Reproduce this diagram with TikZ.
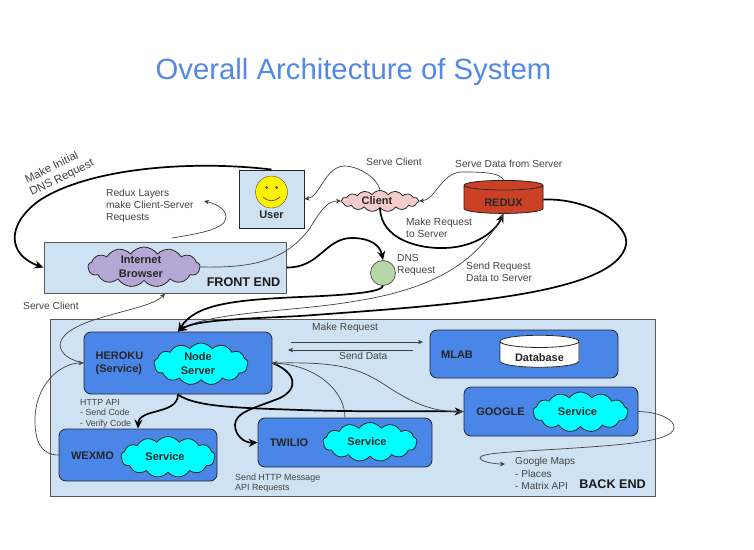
\documentclass[tikz,border=0pt]{standalone}
\usepackage{fontspec}
\setmainfont{Liberation Sans}
\usetikzlibrary{shapes.symbols,shapes.geometric,arrows.meta,calc}
\definecolor{boxblue}{HTML}{CFE2F3}
\definecolor{svc}{HTML}{4A86E8}
\definecolor{titlec}{HTML}{5288E6}
\definecolor{cyanc}{HTML}{00FFFF}
\definecolor{purp}{HTML}{B4A7D6}
\definecolor{pinkc}{HTML}{F4CCCC}
\definecolor{reddx}{HTML}{CC4125}
\definecolor{greenc}{HTML}{B6D7A8}
\definecolor{edge}{HTML}{595959}
\definecolor{lab}{HTML}{434343}
\newcommand\lft{\kern6pt}
\tikzset{
  zone/.style={draw=edge,line width=1pt,fill=boxblue,inner sep=0pt},
  svcbox/.style={draw=black!85,line width=.8pt,fill=svc,rounded corners=7pt,inner sep=0pt},
  puff/.style={cloud,cloud puffs=13,cloud puff arc=110,cloud ignores aspect,draw=black!85,line width=.8pt,inner sep=0pt,align=center,font=\fontsize{11}{13}\selectfont\bfseries,text=black!85},
  can/.style={cylinder,shape border rotate=90,aspect=.25,draw=black!85,line width=.8pt,inner sep=0pt,cylinder uses custom fill,font=\fontsize{11}{13}\selectfont\bfseries,text=black!85},
  note/.style={font=\fontsize{10.2}{12.3}\selectfont,text=lab,align=left,inner sep=0pt,anchor=west},
  tag/.style={font=\fontsize{11}{13.5}\selectfont\bfseries,text=black!85,align=center,inner sep=0pt},
  endtag/.style={font=\fontsize{12.6}{14}\selectfont\bfseries,text=black!90,inner sep=0pt},
  heavy/.style={line width=1.7pt,black,-{Stealth[length=9pt,width=8pt,inset=3pt]}},
  light/.style={line width=.7pt,black!75,-{Stealth[length=5pt,width=4.5pt,inset=1.5pt]}},
}
\begin{document}
\begin{tikzpicture}[x=1pt,y=-1pt]
\useasboundingbox (0,0) rectangle (754,549);
\node[font=\fontsize{29.3}{33}\selectfont,text=titlec] (title) at (353.5,71.5) {Overall Architecture of System};

% zones
\node[zone,minimum width=605pt,minimum height=177pt] (back) at (352.5,407.5) {};
\node[zone,minimum width=242pt,minimum height=51pt] (fe) at (165,267.5) {};
\node[zone,draw=black!85,minimum width=65pt,minimum height=58pt] (user) at (271.5,199) {};
\node[circle,draw=black!70,fill=yellow,minimum size=32pt,inner sep=0pt] (smile) at (271.5,192) {};
\fill[black!70] (266.5,187.5) circle (1.5pt) (276.5,187.5) circle (1.5pt);
\draw[black!70,line width=.7pt] (263,197) .. controls (268,202) and (275,202) .. (280,197);
\node[tag] (usert) at (271.5,215) {User};

% front-end
\node[puff,fill=purp,minimum width=112pt,minimum height=40pt] (browser) at (144,267) {Internet\lft\\[1pt]Browser\lft};
\node[endtag] (fet) at (243.5,282) {FRONT END};
\node[puff,fill=pinkc,minimum width=77pt,minimum height=21pt,cloud puffs=15] (client) at (380,201) {Client\lft};
\node[can,fill=reddx,cylinder body fill=reddx,cylinder end fill=reddx!60!white,minimum width=79pt,minimum height=33pt] (redux) at (503.5,199.5) {\raisebox{-6.5pt}[0pt][0pt]{REDUX}};
\node[circle,draw=edge,line width=.8pt,fill=greenc,minimum size=25pt,inner sep=0pt] (dns) at (383,273) {};

% services
\node[svcbox,minimum width=188pt,minimum height=62pt] (heroku) at (178,363) {};
\node[tag,align=left] (herokut) at (119.5,363.5) {HEROKU\\(Service)};
\node[puff,fill=cyanc,minimum width=94pt,minimum height=42pt] (node) at (201,364) {Node\lft\\[1pt]Server\lft};
\node[svcbox,minimum width=188pt,minimum height=48pt] (mlab) at (524,354) {};
\node[tag] (mlabt) at (457,354.5) {MLAB};
\node[can,fill=white,cylinder body fill=white,cylinder end fill=white,minimum width=79pt,minimum height=32pt] (db) at (539.5,354.5) {\raisebox{-6.5pt}[0pt][0pt]{Database}};
\node[svcbox,minimum width=174pt,minimum height=49pt] (google) at (551,411.5) {};
\node[tag] (googlet) at (500.5,412) {GOOGLE};
\node[puff,fill=cyanc,minimum width=95pt,minimum height=40pt] (gcloud) at (580.5,412) {Service\lft};
\node[svcbox,minimum width=174pt,minimum height=49pt] (twilio) at (345,442.5) {};
\node[tag] (twiliot) at (289,443) {TWILIO};
\node[puff,fill=cyanc,minimum width=94pt,minimum height=39pt] (tcloud) at (370,442) {Service\lft};
\node[svcbox,minimum width=158pt,minimum height=52pt] (wexmo) at (138,455) {};
\node[tag] (wexmot) at (92.5,455.5) {WEXMO};
\node[puff,fill=cyanc,minimum width=94pt,minimum height=41pt] (wcloud) at (168,457) {Service\lft};

% free ends
\coordinate (c1) at (172,238);
\coordinate (c2) at (204,201);
\coordinate (mrs) at (291,342);
\coordinate (mre) at (423,342);
\coordinate (sds) at (413,350);
\coordinate (sde) at (288,350);
\coordinate (gme) at (505,464);

% connectors
\draw[heavy] (user.north) .. controls (190,160) and (90,168) .. (40,200) .. controls (5,225) and (8,255) .. (fe.west);
\draw[light] (c1) .. controls (195,234) and (226,230) .. (226,217) .. controls (226,207) and (212,203) .. (c2);
\draw[light] (browser.east) .. controls (250,268) and (285,262) .. (310,228) .. controls (322,208) and (328,201) .. (client.west);
\draw[heavy] (fe.east) .. controls (320,268) and (325,238) .. (352,238) .. controls (370,238) and (380,245) .. (dns.north);
\draw[light] (client.north) .. controls (376,175) and (355,166) .. (345,166) .. controls (325,166) and (320,197) .. (user.east);
\draw[light] (redux.90) .. controls (500,172) and (480,172) .. (460,172) .. controls (440,175) and (435,200) .. (client.east);
\draw[heavy] (client.south) .. controls (381,240) and (420,249) .. (445,248) .. controls (475,247) and (495,232) .. (redux.270);
\draw[heavy] (dns.south) .. controls (382,292) and (350,295) .. (300,297) .. controls (230,300) and (195,305) .. (heroku.north);
\draw[light] (heroku.north) .. controls (200,312) and (290,312) .. (350,302) .. controls (430,290) and (475,265) .. (redux.270);
\draw[heavy] (redux.0) .. controls (590,198) and (630,225) .. (626,245) .. controls (615,295) and (450,305) .. (300,316) .. controls (240,319) and (195,320) .. (heroku.north);
\draw[light] (heroku.west) .. controls (60,358) and (55,345) .. (65,335) .. controls (85,315) and (150,310) .. (fe.south);
\draw[light] (wexmo.west) .. controls (40,455) and (35,440) .. (35,420) .. controls (35,385) and (60,363) .. (heroku.west);
\draw[heavy] (heroku.south) .. controls (178,415) and (139,408) .. (wexmo.north);
\draw[heavy] (heroku.east) .. controls (295,372) and (300,388) .. (280,398) .. controls (255,408) and (235,412) .. (235,425) .. controls (235,436) and (245,443) .. (twilio.west);
\draw[light] (twilio.north) .. controls (345,390) and (315,365) .. (heroku.east);
\draw[heavy] (heroku.south) .. controls (195,408) and (250,408) .. (300,410) .. controls (360,412) and (420,411) .. (google.west);
\draw[light] (heroku.east) .. controls (330,362) and (355,365) .. (385,385) .. controls (415,405) and (435,412) .. (google.west);
\draw[light] (mrs) -- (mre);
\draw[light] (sds) -- (sde);
\draw[light] (google.east) .. controls (660,412) and (675,420) .. (674,428) .. controls (672,442) and (620,445) .. (560,449) .. controls (510,452) and (480,453) .. (480,458) .. controls (481,462) and (495,464) .. (gme);

% labels
\node[note,rotate=26,align=center,anchor=center,font=\fontsize{11.4}{13.5}\selectfont] (l1) at (59,172) {Make Initial\kern9pt\\DNS Request};
\node[note] (l2) at (106,206) {Redux Layers\\make Client-Server\\Requests};
\node[note] (l3) at (23,306) {Serve Client};
\node[note] (l4) at (366,161.5) {Serve Client};
\node[note] (l5) at (455,164) {Serve Data from Server};
\node[note] (l6) at (406,227.5) {Make Request\\to Server};
\node[note] (l7) at (397,265) {DNS\\Request};
\node[note] (l8) at (466,272) {Send Request\\Data to Server};
\node[note] (l9) at (312,328) {Make Request};
\node[note] (l10) at (339,356) {Send Data};
\node[note,font=\fontsize{8.8}{10.4}\selectfont] (l11) at (80,413.5) {HTTP API\\- Send Code\\- Verify Code};
\node[note,font=\fontsize{8.9}{10.4}\selectfont] (l12) at (235,483) {Send HTTP Message\\API Requests};
\node[note,font=\fontsize{10.1}{12.3}\selectfont] (l13) at (515,473.5) {Google Maps\\- Places\\- Matrix API};
\node[endtag] (bet) at (612.5,484.5) {BACK END};
\end{tikzpicture}
\end{document}
